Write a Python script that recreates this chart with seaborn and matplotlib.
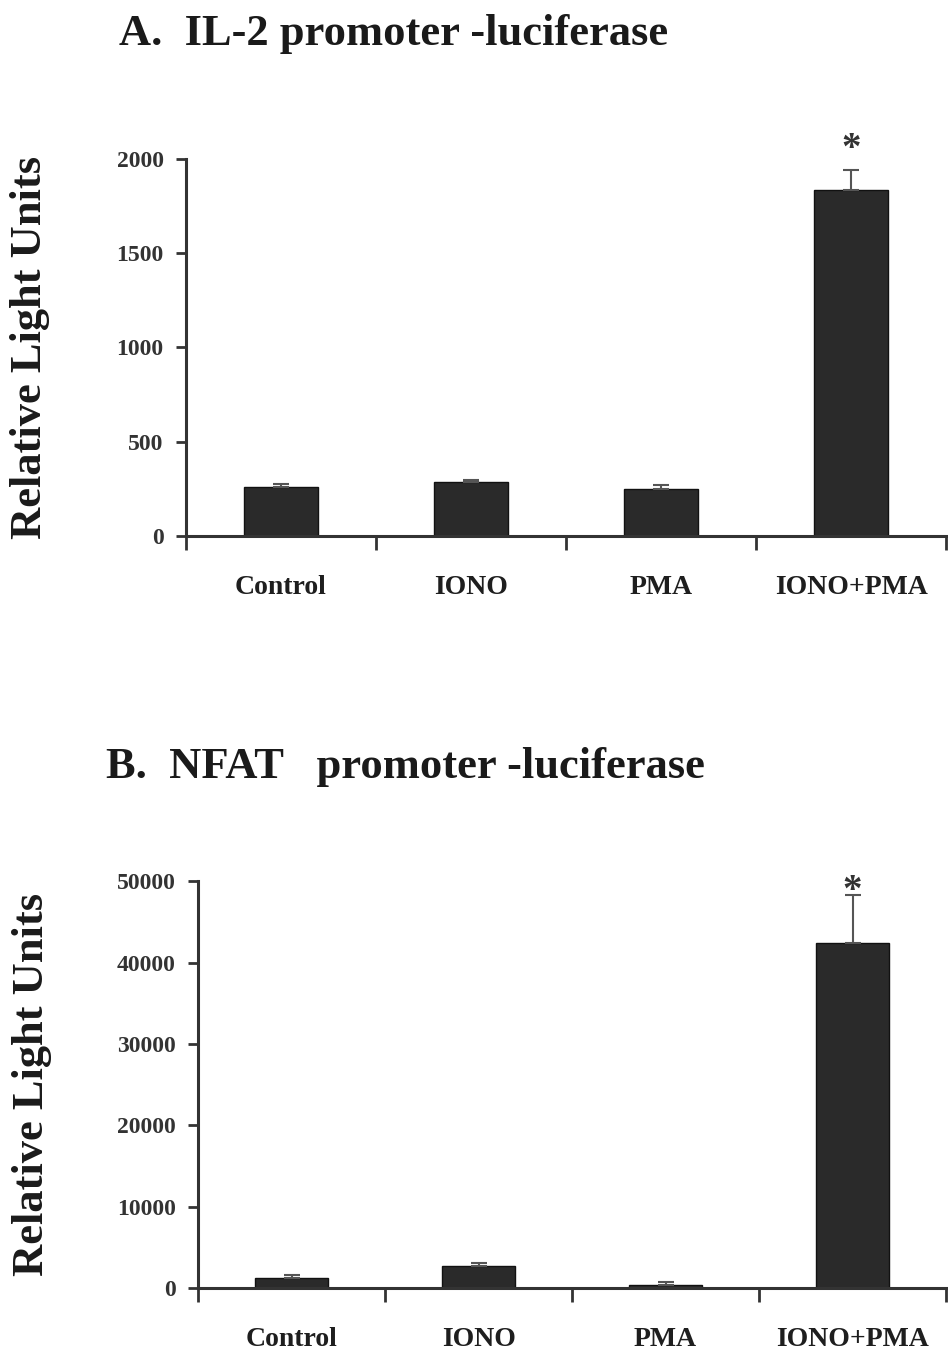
import matplotlib
matplotlib.use("Agg")
import matplotlib.pyplot as plt
import seaborn as sns
import pandas as pd

# values
groups = ["Control", "IONO", "PMA", "IONO+PMA"]
il2_rlu = [258, 283, 248, 1837]
il2_sem = [16, 14, 24, 103]
nfat_rlu = [1230, 2660, 400, 42420]
nfat_sem = [410, 410, 300, 5900]

sns.set_theme(style="white")
plt.rcParams["font.family"] = ["Liberation Serif", "DejaVu Serif"]
plt.rcParams["font.weight"] = "bold"

bar_col = "#2a2a2a"
line_col = "#333333"

fig = plt.figure(figsize=(9.48, 13.53), dpi=100)
axA = fig.add_axes([0.196, 0.604, 0.802, 0.2785])
axB = fig.add_axes([0.209, 0.048, 0.789, 0.3005])


def panel(ax, vals, sems, ymax, step, star_off, lab_x):
    df = pd.DataFrame({"group": groups, "rlu": vals})
    sns.barplot(data=df, x="group", y="rlu", color=bar_col, width=0.39,
                edgecolor="#111111", linewidth=1, saturation=1, errorbar=None, ax=ax)
    ax.errorbar(range(len(groups)), vals, yerr=[[0] * len(sems), sems], fmt="none",
                ecolor="#555555", elinewidth=1.5, capsize=6, capthick=1.5)
    for i, (v, s) in enumerate(zip(vals, sems)):
        if i == 3:
            ax.text(i, v + s + star_off, "*", ha="center", va="center",
                    fontsize=28, color="#333333")
    ax.set_xlim(-0.5, 3.5)
    ax.set_ylim(0, ymax)
    ax.set_yticks(range(0, ymax + 1, step))
    ax.set_xticks(range(len(groups)))
    ax.set_xticklabels(groups)
    ax.set_xticks([-0.5, 0.5, 1.5, 2.5, 3.5], minor=True)
    ax.tick_params(axis="x", which="major", bottom=True, length=0, pad=28, labelsize=20)
    ax.tick_params(axis="x", which="minor", bottom=True, length=10, width=2,
                   color=line_col, direction="out")
    ax.tick_params(axis="y", left=True, length=7, width=2, color=line_col,
                   direction="out", pad=9, labelsize=17)
    for lab in ax.get_xticklabels():
        lab.set_fontweight("bold")
        lab.set_color("#1e1e1e")
    for lab in ax.get_yticklabels():
        lab.set_fontweight("bold")
        lab.set_color("#333333")
    sns.despine(ax=ax)
    for sp in ["left", "bottom"]:
        ax.spines[sp].set_linewidth(2.2)
        ax.spines[sp].set_color(line_col)
    ax.spines["left"].set_bounds(0, ymax)
    ax.set_xlabel("")
    ax.set_ylabel("Relative Light Units", fontsize=32, fontweight="bold",
                  color="#1a1a1a")
    ax.yaxis.set_label_coords(lab_x, 0.5)


panel(axA, il2_rlu, il2_sem, 2000, 500, 110, -0.178)
panel(axB, nfat_rlu, nfat_sem, 50000, 10000, 400, -0.196)

fig.text(0.126, 0.975, "A.  IL-2 promoter -luciferase", fontsize=32,
         fontweight="bold", color="#1a1a1a", va="center")
fig.text(0.112, 0.433, "B.  NFAT   promoter -luciferase", fontsize=32,
         fontweight="bold", color="#1a1a1a", va="center")

fig.savefig("out.png", dpi=100, facecolor="white")
